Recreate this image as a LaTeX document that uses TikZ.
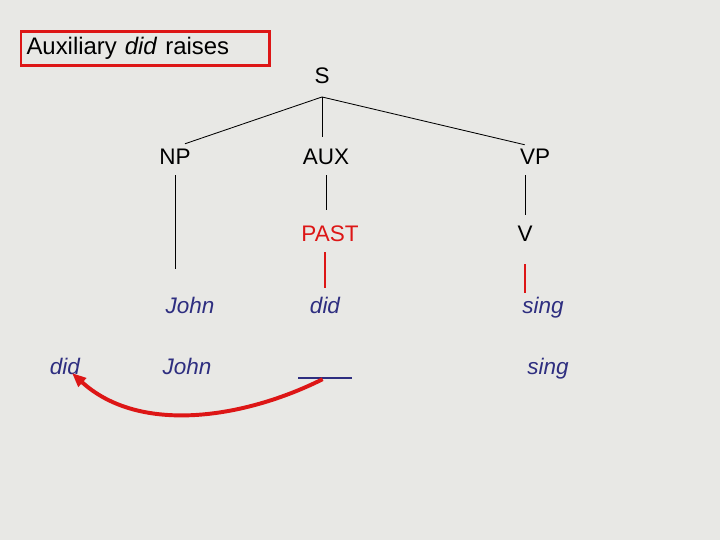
\documentclass[tikz,border=0pt]{standalone}
\usepackage{fontspec}
\setmainfont{Liberation Sans}
\usetikzlibrary{arrows.meta}
\definecolor{slidegray}{RGB}{232,232,229}
\definecolor{wordblue}{RGB}{46,46,128}
\definecolor{markred}{RGB}{221,22,22}

\begin{document}
\begin{tikzpicture}[x=0.025cm, y=-0.025cm,
		cat/.style={inner sep=0pt, text height=12pt, text depth=3pt, font=\fontsize{16}{19}\selectfont},
		word/.style={cat, text=wordblue, font=\fontsize{16}{19}\selectfont\itshape},
		branch/.style={line width=0.6pt, black},
		link/.style={line width=2.1pt, markred}]
		\fill[slidegray] (0, 0) rectangle (720, 540);
	
		\node[draw=markred, line width=2pt, anchor=west, inner xsep=4pt, inner ysep=0pt, text width=5.93cm, minimum height=0.85cm, align=left, font=\fontsize{17}{20}\selectfont] (title) at (19.5, 48.5) {Auxiliary \textit{did} raises};
		
		\node[cat] (s) at (322, 77) {S};
		\node[cat] (np) at (175, 158) {NP};
		\node[cat] (aux) at (326, 158) {AUX};
		\node[cat] (vp) at (535, 158) {VP};
		\node[cat, text=markred] (past) at (330, 235) {PAST};
		\node[cat] (v) at (525, 235) {V};
		
		\node[word] (john) at (190, 307) {John};
		\node[word] (did) at (325, 307) {did};
		\node[word] (sing) at (543, 307) {sing};
		
		\node[word] (did-moved) at (65, 368) {did};
		\node[word] (john-low) at (187, 368) {John};
		\node[inner sep=0pt] (trace) at (325, 378) {\textcolor{wordblue}{\rule{38pt}{1.3pt}}};
		\node[word] (sing-low) at (548, 368) {sing};
		
		\draw[branch, shorten >=7.5pt] ([yshift=-6.5pt]s.south) -- (np.north);
		\draw[branch, shorten >=7.5pt] ([yshift=-6.5pt]s.south) -- (s.south |- aux.north);
		\draw[branch, shorten >=7.5pt] ([yshift=-6.5pt]s.south) -- (vp.north);
		\draw[branch, shorten <=4.6pt, shorten >=19pt] (np.south) -- (np.south |- john.north);
		\draw[branch, shorten <=4.6pt, shorten >=10.3pt] (aux.south) -- (aux.south |- past.north);
		\draw[branch, shorten <=4.6pt, shorten >=6.8pt] (v.north |- vp.south) -- (v.north);
		
		\draw[link, shorten <=4.6pt, shorten >=6pt] (did.north |- past.south) -- (did.north);
		\draw[link, shorten <=13pt, shorten >=2.5pt] (v.south) -- (v.south |- sing.north);
		
		\draw[link, line width=2.8pt, -{Triangle[length=10pt, width=8pt]}] (trace) .. controls (245, 418) and (140, 435) .. ([xshift=5pt, yshift=-3.6pt]did-moved.center);
	\end{tikzpicture}
\end{document}
